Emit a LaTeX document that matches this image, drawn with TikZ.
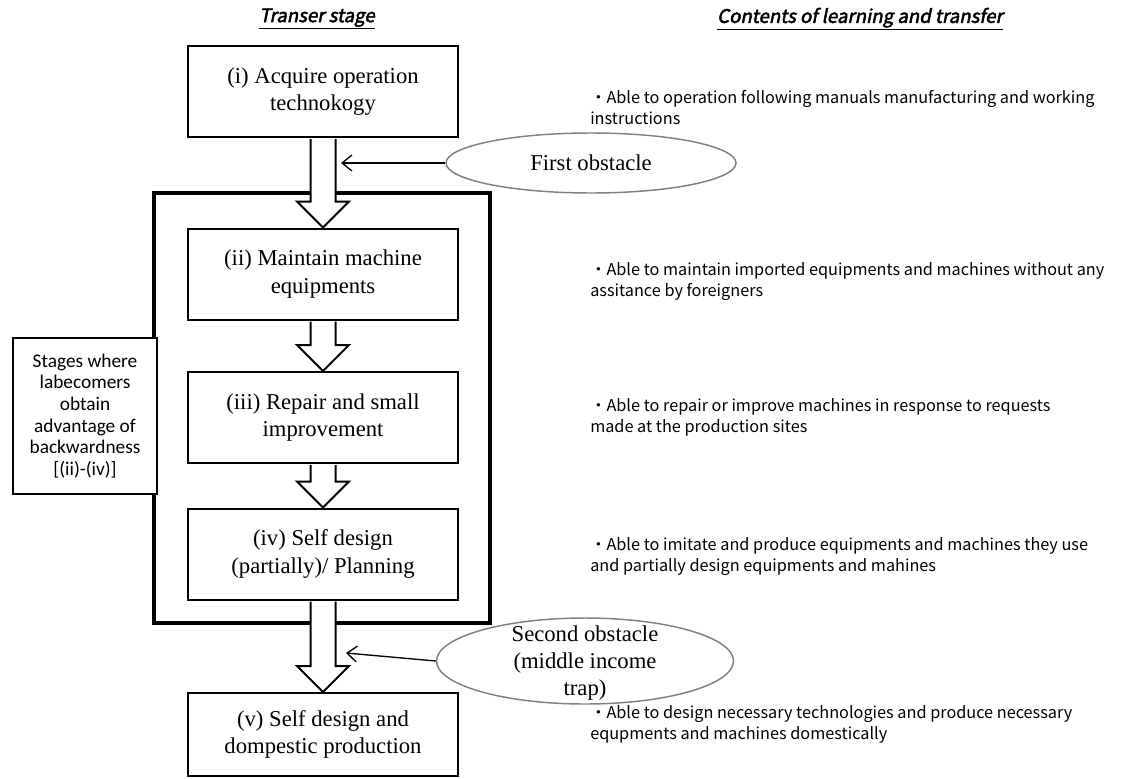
\documentclass[tikz,border=0pt]{standalone}
\usepackage{fontspec}
\setmainfont{Liberation Serif}
\newfontfamily\gothic{Noto Sans CJK JP}
\newfontfamily\gothichead{Noto Sans CJK JP}[FakeSlant=0.2,FakeBold=2.5]
\newfontfamily\calibri{Carlito}
\usetikzlibrary{positioning,arrows.meta,calc,shapes.geometric}
\definecolor{ObstacleGray}{RGB}{128,128,128}
\tikzset{
  stagebox/.style={draw,line width=1.5pt,fill=white,minimum width=202.5pt,
    minimum height=68.25pt,align=center,font=\fontsize{17}{20.5}\selectfont},
  groupframe/.style={draw,line width=3pt,minimum width=252pt,minimum height=322.5pt},
  sidebox/.style={draw,line width=1.2pt,fill=white,minimum width=108pt,minimum height=117pt,
    align=center,font=\calibri\fontsize{14.5}{16.3}\selectfont,inner sep=2pt},
  obstacle/.style={ellipse,draw=ObstacleGray,line width=1.1pt,fill=white,inner sep=0pt},
  obstext/.style={align=center,font=\fontsize{17}{20.5}\selectfont},
  obsflow/.style={-{Straight Barb[length=2.6mm,width=4.2mm]},line width=1pt},
  hollow/.style={draw,line width=1.5pt,fill=white,line join=miter},
  contents/.style={anchor=west,align=left,inner sep=0pt,
    font=\gothic\fontsize{12.2}{15.75}\selectfont},
  header/.style={font=\gothichead\fontsize{14}{16}\selectfont}
}
% block arrow between two stages
\newcommand{\stagearrow}[2]{%
  \draw[hollow] ($(#1.south)+(-12.5,1)$) -- ($(#2.north)+(-12.5,-26)$)
    -- ($(#2.north)+(-26,-26)$) -- (#2.north) -- ($(#2.north)+(26,-26)$)
    -- ($(#2.north)+(12.5,-26)$) -- ($(#1.south)+(12.5,1)$);}

\begin{document}
\begin{tikzpicture}[x=0.75pt,y=-0.75pt]
  \useasboundingbox (0,0) rectangle (1134,778);

  \node[header] (hstage) at (317,19) {\underline{Transer stage}};
  \node[header] (hcont) at (860,19) {\underline{Contents of learning and transfer}};

  \node[groupframe] (grp) at (322,408) {};

  \node[stagebox] (s1) at (323,91.5) {(i) Acquire operation\\technokogy};
  \node[stagebox] (s2) at (323,274) {(ii) Maintain machine\\equipments};
  \node[stagebox] (s3) at (323,417.5) {(iii) Repair and small\\improvement};
  \node[stagebox] (s4) at (323,554) {(iv) Self design\\(partially)/ Planning};
  \node[stagebox,minimum height=62.25pt] (s5) at (323,734.5) {(v) Self design and\\dompestic production};

  \stagearrow{s1}{s2}
  \stagearrow{s2}{s3}
  \stagearrow{s3}{s4}
  \stagearrow{s4}{s5}

  \node[sidebox] (late) at (85,416) {Stages where\\labecomers\\obtain\\advantage of\\backwardness\\{[}(ii)-(iv){]}};

  \node[obstacle,minimum width=217.5pt,minimum height=45pt] (obs1) at (591,163) {};
  \node[obstext] at (obs1) {First obstacle};
  \coordinate (hit1) at (341,163);
  \draw[obsflow] (obs1.west) -- (hit1);

  \node[obstacle,minimum width=222.75pt,minimum height=64.5pt] (obs2) at (585,661) {};
  \node[obstext] at (585,663) {Second obstacle\\(middle income\\trap)};
  \coordinate (hit2) at (346,653);
  \draw[obsflow] (obs2.west) -- (hit2);

  \node[contents] (c1) at (590,107.5) {・Able to operation following manuals manufacturing and working\\instructions};
  \node[contents] (c2) at (590,281.5) {・Able to maintain imported equipments and machines without any\\assitance by foreigners};
  \node[contents] (c3) at (590,417) {・Able to repair or improve machines in response to requests\\made at the production sites};
  \node[contents] (c4) at (590,557) {・Able to imitate and produce equipments and machines they use\\and partially design equipments and mahines};
  \node[contents] (c5) at (590,724) {・Able to design necessary technologies and produce necessary\\equpments and machines domestically};
\end{tikzpicture}
\end{document}
